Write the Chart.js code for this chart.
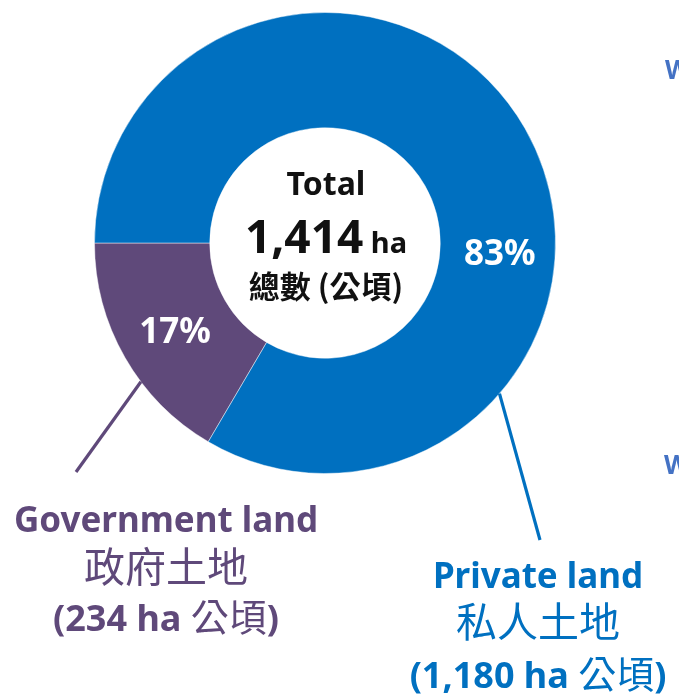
<!DOCTYPE html>
<html>
<head>
<meta charset="utf-8">
<script src="https://cdn.jsdelivr.net/npm/chart.js@4/dist/chart.umd.min.js"></script>
<style>
  body { margin: 0; background: #fff; }
  canvas { display: block; }
</style>
</head>
<body>
<canvas id="landChart" width="679" height="697"></canvas>
<script>
// Data of the land breakdown (hectares)
const categories = ['Government land', 'Private land'];
const categoriesZh = ['政府土地', '私人土地'];
const areaHa = [234, 1180];
const totalHa = areaHa[0] + areaHa[1];
const sliceColors = ['#5F497A', '#0070C0'];

const LATIN = '"Noto Sans", "Noto Sans CJK TC", sans-serif';
const CJK = '"Noto Sans CJK TC", "Noto Sans", sans-serif';

// Draw a line of text made of segments (each with own font), centred on cx
function drawSegments(ctx, segments, cx, baseline, color) {
    ctx.save();
    ctx.fillStyle = color;
    ctx.textBaseline = 'alphabetic';
    ctx.textAlign = 'left';
    let width = 0;
    segments.forEach(s => { ctx.font = s.font; s.w = ctx.measureText(s.text).width; width += s.w; });
    let x = cx - width / 2;
    segments.forEach(s => { ctx.font = s.font; ctx.fillText(s.text, x, baseline); x += s.w; });
    ctx.restore();
}

function fmt(n) {
    return n.toLocaleString('en-US');
}

// Percentages, leader lines, centre text and the labels
const labelPlugin = {
    id: 'landLabels',
    afterDraw(chart) {
        const ctx = chart.ctx;
        const meta = chart.getDatasetMeta(0);
        const gov = meta.data[0];
        const { x: cx, y: cy, innerRadius, outerRadius } = gov.getProps(['x', 'y', 'innerRadius', 'outerRadius'], true);
        const midR = (innerRadius + outerRadius) / 2;
        const pct = areaHa.map(v => Math.round(v / totalHa * 100) + '%');

        // percentages inside the ring
        const govPos = gov.tooltipPosition(true);
        drawSegments(ctx, [{ text: pct[0], font: 'bold 35px ' + LATIN }], govPos.x, govPos.y + 14, '#fff');
        const privAngle = 0.045;
        drawSegments(ctx, [{ text: pct[1], font: 'bold 35px ' + LATIN }],
            cx + Math.cos(privAngle) * midR + 2, cy + Math.sin(privAngle) * midR + 14, '#fff');

        // leader lines
        const leaders = [
            { angle: 143 * Math.PI / 180, to: [76, 472], color: sliceColors[0] },
            { angle: 40.8 * Math.PI / 180, to: [540, 540], color: sliceColors[1] }
        ];
        ctx.save();
        ctx.lineWidth = 3.2;
        leaders.forEach(l => {
            ctx.strokeStyle = l.color;
            ctx.beginPath();
            ctx.moveTo(cx + Math.cos(l.angle) * outerRadius, cy + Math.sin(l.angle) * outerRadius);
            ctx.lineTo(l.to[0], l.to[1]);
            ctx.stroke();
        });
        ctx.restore();

        // centre text
        drawSegments(ctx, [{ text: 'Total', font: 'bold 32px ' + LATIN }], cx + 1, 195, '#111');
        drawSegments(ctx, [
            { text: fmt(totalHa), font: 'bold 46px ' + LATIN },
            { text: ' ha', font: 'bold 29px ' + LATIN }
        ], cx + 1, 253, '#111');
        drawSegments(ctx, [{ text: '總數 (公頃)', font: 'bold 31px ' + CJK }], cx + 1, 298, '#111');

        // government label
        drawSegments(ctx, [{ text: categories[0], font: 'bold 35px ' + LATIN }], 166, 532, sliceColors[0]);
        drawSegments(ctx, [{ text: categoriesZh[0], font: '41px ' + CJK }], 166, 582, sliceColors[0]);
        drawSegments(ctx, [
            { text: '(' + fmt(areaHa[0]) + ' ha ', font: 'bold 36px ' + LATIN },
            { text: '公頃', font: '38px ' + CJK },
            { text: ')', font: 'bold 36px ' + LATIN }
        ], 166, 631, sliceColors[0]);

        // private label
        drawSegments(ctx, [{ text: categories[1], font: 'bold 35px ' + LATIN }], 538, 588, sliceColors[1]);
        drawSegments(ctx, [{ text: categoriesZh[1], font: '41px ' + CJK }], 538, 637, sliceColors[1]);
        drawSegments(ctx, [
            { text: '(' + fmt(areaHa[1]) + ' ha ', font: 'bold 36px ' + LATIN },
            { text: '公頃', font: '38px ' + CJK },
            { text: ')', font: 'bold 36px ' + LATIN }
        ], 538, 688, sliceColors[1]);

        // cut-off text at the right edge
        ctx.save();
        ctx.fillStyle = '#4472C4';
        ctx.font = 'bold 26px ' + LATIN;
        ctx.fillText('W', 665, 79);
        ctx.fillText('W', 664, 474);
        ctx.restore();
    }
};

const ctx = document.getElementById('landChart').getContext('2d');
const landChart = new Chart(ctx, {
    type: 'doughnut',
    data: {
        labels: categories,
        datasets: [{
            data: areaHa,
            backgroundColor: sliceColors,
            borderColor: 'rgba(255,255,255,0.45)',
            borderWidth: 1
        }]
    },
    options: {
        responsive: false,
        animation: false,
        cutout: '50%',
        // government slice ends at 9 o'clock
        rotation: 270 - 360 * areaHa[0] / totalHa,
        layout: { padding: { left: 94, top: 12, right: 123, bottom: 223 } },
        plugins: {
            legend: { display: false },
            tooltip: { enabled: false }
        }
    },
    plugins: [labelPlugin]
});
</script>
</body>
</html>
